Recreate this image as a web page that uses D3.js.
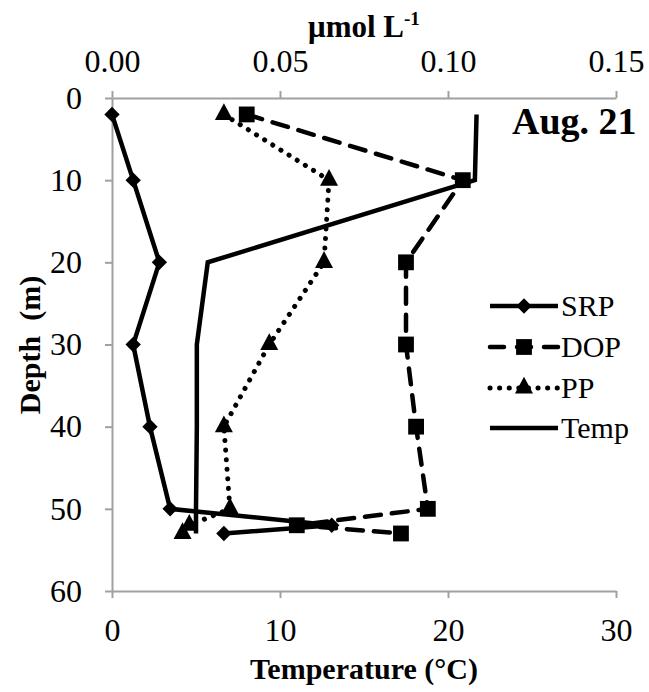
<!DOCTYPE html>
<html><head><meta charset="utf-8">
<script src="https://cdn.jsdelivr.net/npm/d3@7"></script>
<style>body{margin:0;background:#fff}svg{display:block}</style>
</head><body>
<svg id="c" width="649" height="692" font-family="Liberation Serif, Times New Roman, Times, DejaVu Serif, serif"></svg>
<script>
const depths = [2, 10, 20, 30, 40, 50, 52, 53];
const srp  = [0.000, 0.0063, 0.0141, 0.0063, 0.0113, 0.0173, 0.0654, 0.0333];
const dop  = [0.0401, 0.1044, 0.0875, 0.0875, 0.0905, 0.0940, 0.0550, 0.0860];
const pp   = [0.0333, 0.0646, 0.0631, 0.0468, 0.0333, 0.0351, 0.0230, 0.0210];
const temp = [21.7, 21.6, 5.7, 5.05, 5.05, 5.0, 5.0, 5.0];
const topTicks = [0, 0.05, 0.10, 0.15];
const bottomTicks = [0, 10, 20, 30];
const depthTicks = [0, 10, 20, 30, 40, 50, 60];
const seriesNames = ["SRP", "DOP", "PP", "Temp"];

const FONT = "Liberation Serif, Times New Roman, Times, DejaVu Serif, serif";
const svg = d3.select("#c");
const L = 112, R = 616, T = 98, B = 591;
const xc = d3.scaleLinear().domain([0, 0.15]).range([L, R]);
const xt = d3.scaleLinear().domain([0, 30]).range([L, R]);
const y = d3.scaleLinear().domain([0, 60]).range([T, B]);
const axisColor = "#a0a0a0";

function styleAxis(g){
  g.attr("font-family", FONT);
  g.select(".domain").attr("stroke", axisColor).attr("stroke-width", 2);
  g.selectAll(".tick line").attr("stroke", axisColor).attr("stroke-width", 2);
  g.selectAll(".tick text").attr("font-family", FONT).attr("font-size", 32).attr("fill", "#000");
}
svg.append("g").attr("transform", `translate(0,${T})`)
  .call(d3.axisTop(xc).tickValues(topTicks).tickFormat(d3.format(".2f")).tickSizeInner(7).tickSizeOuter(0).tickPadding(19))
  .call(styleAxis);
svg.append("g").attr("transform", `translate(0,${B})`)
  .call(d3.axisBottom(xt).tickValues(bottomTicks).tickFormat(d3.format("d")).tickSizeInner(7).tickSizeOuter(0).tickPadding(20))
  .call(styleAxis);
svg.append("g").attr("transform", `translate(${L},0)`)
  .call(d3.axisLeft(y).tickValues(depthTicks).tickFormat(d3.format("d")).tickSizeInner(7).tickSizeOuter(0).tickPadding(23))
  .call(styleAxis);

// titles
const tt = svg.append("text").attr("x", 364).attr("y", 37).attr("text-anchor", "middle")
  .attr("font-family", FONT).attr("font-size", 31).attr("font-weight", "bold");
tt.append("tspan").text("μmol L");
tt.append("tspan").attr("dy", -12).attr("font-size", 19).text("-1");
svg.append("text").attr("x", 364).attr("y", 679).attr("text-anchor", "middle")
  .attr("font-family", FONT).attr("font-size", 30).attr("font-weight", "bold").text("Temperature (°C)");
svg.append("text").attr("transform", "translate(40,345) rotate(-90)").attr("text-anchor", "middle")
  .attr("font-family", FONT).attr("font-size", 30).attr("font-weight", "bold").attr("xml:space","preserve").text("Depth  (m)");
svg.append("text").attr("x", 512).attr("y", 134).attr("text-anchor", "start")
  .attr("font-family", FONT).attr("font-size", 38).attr("font-weight", "bold").text("Aug. 21");

const styles = {
  SRP: {dash: null, cap: "butt", marker: d3.symbolSquare, size: 118, tf: "rotate(45)"},
  DOP: {dash: "16,11", cap: "round", marker: d3.symbolSquare, size: 250, tf: ""},
  PP: {dash: "0.1,9.5", cap: "round", marker: d3.symbolTriangle, size: 140, tf: "scale(1,1.08)"},
  Temp: {dash: null, cap: "butt", marker: null}
};
const data = {
  SRP: srp.map((v,i)=>[xc(v), y(depths[i])]),
  DOP: dop.map((v,i)=>[xc(v), y(depths[i])]),
  PP: pp.map((v,i)=>[xc(v), y(depths[i])]),
  Temp: temp.map((v,i)=>[xt(v), y(depths[i])])
};
const line = d3.line();
const widths = {SRP: 4.5, DOP: 4.5, PP: 5, Temp: 4.5};
seriesNames.forEach(n=>{
  const s = styles[n];
  svg.append("path").attr("d", line(data[n])).attr("fill","none").attr("stroke","#000")
    .attr("stroke-width", widths[n]).attr("stroke-linecap", s.cap).attr("stroke-linejoin","miter")
    .attr("stroke-dasharray", s.dash);
});
seriesNames.forEach(n=>{
  const s = styles[n];
  if(!s.marker) return;
  svg.append("g").selectAll("path").data(data[n]).join("path")
    .attr("transform", d=>`translate(${d[0]},${d[1]}) ${s.tf}`)
    .attr("d", d3.symbol().type(s.marker).size(s.size)).attr("fill","#000");
});

// legend
const legY = [306, 347, 388, 428];
seriesNames.forEach((n,i)=>{
  const s = styles[n];
  const g = svg.append("g").attr("transform", `translate(0,${legY[i]})`);
  g.append("line").attr("x1", 490).attr("x2", 558).attr("y1",0).attr("y2",0)
    .attr("stroke","#000").attr("stroke-width", widths[n]).attr("stroke-linecap", s.cap)
    .attr("stroke-dasharray", n==="DOP" ? "14,13" : s.dash);
  if(s.marker) g.append("path").attr("transform", `translate(524,0) ${s.tf}`)
    .attr("d", d3.symbol().type(s.marker).size(s.size)).attr("fill","#000");
  g.append("text").attr("x", 561).attr("y", 10).attr("font-family", FONT).attr("font-size", 30).text(n);
});
</script>
</body></html>
